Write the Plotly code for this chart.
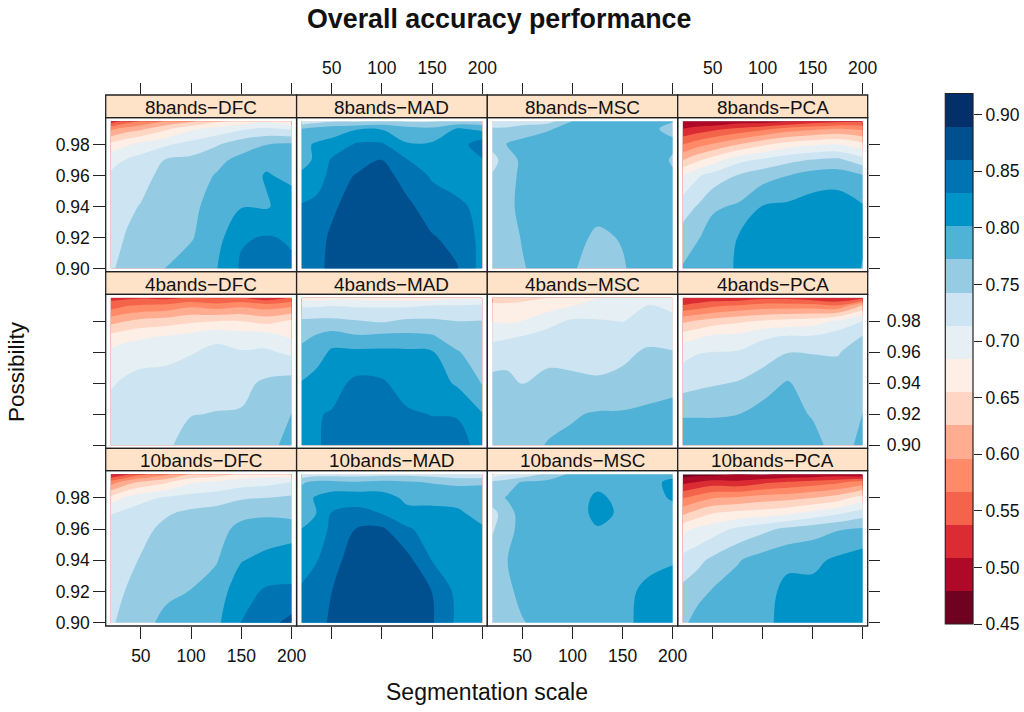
import numpy as np
import plotly.graph_objects as go

# Axes of the data grid
segmentation_scale = [20, 35, 50, 75, 100, 125, 150, 175, 200]
possibility = [0.90, 0.92, 0.94, 0.96, 0.97, 0.98, 0.99, 0.995]

# Overall accuracy (%): one row per segmentation scale,
# each row runs through the possibility values above.
acc_8_dfc = [
    [73.8, 72.8, 72.5, 71.8, 70.5, 66.5, 59.0, 52.0],
    [75.5, 74.5, 73.5, 72.5, 71.5, 68.0, 61.0, 55.0],
    [76.0, 75.5, 74.5, 73.0, 72.5, 69.5, 62.0, 57.0],
    [77.3, 76.5, 76.0, 75.5, 74.5, 71.0, 65.0, 60.0],
    [78.5, 77.0, 76.5, 76.0, 75.0, 72.5, 68.0, 62.0],
    [80.0, 79.0, 78.5, 77.4, 76.5, 74.0, 69.5, 65.0],
    [83.5, 82.8, 80.0, 78.8, 78.0, 76.0, 71.0, 66.0],
    [84.5, 83.3, 79.9, 80.4, 79.5, 77.2, 72.0, 68.0],
    [83.5, 82.8, 81.5, 79.5, 79.0, 77.8, 71.0, 66.0],
]
acc_8_mad = [
    [84.5, 84.0, 83.4, 80.5, 79.5, 79.5, 77.5, 72.0],
    [85.0, 85.0, 84.2, 81.2, 80.5, 80.5, 78.5, 73.0],
    [87.0, 86.5, 85.5, 84.3, 83.5, 81.0, 79.0, 74.0],
    [88.5, 88.0, 87.5, 86.3, 84.5, 83.5, 80.0, 74.0],
    [88.7, 88.6, 88.5, 87.5, 86.2, 83.5, 80.0, 75.0],
    [88.5, 88.0, 86.8, 84.5, 83.2, 80.4, 78.5, 74.0],
    [87.5, 86.3, 84.3, 82.8, 81.8, 80.6, 78.0, 74.0],
    [86.2, 85.0, 83.6, 82.0, 81.5, 81.5, 80.5, 75.0],
    [82.0, 82.3, 82.4, 82.3, 82.8, 85.0, 79.5, 75.0],
]
acc_8_msc = [
    [75.0, 75.5, 75.8, 74.5, 73.5, 75.0, 75.0, 71.0],
    [76.0, 76.2, 76.5, 76.0, 75.5, 77.5, 75.0, 72.0],
    [77.0, 77.4, 78.0, 78.0, 78.0, 78.0, 76.0, 72.5],
    [78.5, 78.5, 78.5, 78.5, 78.5, 78.5, 77.0, 73.0],
    [77.5, 78.0, 78.5, 78.5, 78.5, 78.5, 78.0, 77.3],
    [76.0, 76.8, 78.0, 78.5, 78.5, 78.5, 78.0, 77.5],
    [77.0, 77.4, 78.0, 78.5, 78.5, 78.5, 78.0, 77.5],
    [78.5, 78.5, 78.5, 78.5, 78.5, 78.5, 77.6, 77.4],
    [79.0, 79.0, 78.5, 77.5, 77.0, 77.6, 76.8, 77.3],
]
acc_8_pca = [
    [77.5, 75.5, 73.0, 68.5, 62.5, 56.7, 51.0, 48.0],
    [79.0, 77.0, 74.5, 71.0, 65.0, 58.5, 52.0, 48.5],
    [79.5, 78.5, 76.8, 72.5, 67.0, 60.0, 53.0, 48.0],
    [80.3, 80.2, 77.6, 74.5, 70.5, 62.5, 54.5, 49.5],
    [81.5, 81.3, 80.3, 76.0, 72.0, 65.0, 56.0, 49.5],
    [82.0, 81.8, 80.7, 77.2, 73.5, 67.0, 58.0, 50.5],
    [82.0, 82.0, 81.5, 78.5, 74.5, 68.0, 59.0, 52.0],
    [82.0, 82.0, 81.7, 78.8, 75.0, 68.5, 60.0, 53.0],
    [80.0, 80.5, 80.4, 77.5, 72.5, 66.5, 59.0, 53.5],
]
acc_4_dfc = [
    [73.0, 72.3, 71.1, 69.0, 66.5, 61.5, 55.0, 53.0],
    [73.2, 72.8, 71.8, 70.0, 67.5, 62.5, 56.5, 53.0],
    [73.4, 73.0, 72.3, 70.3, 68.0, 63.5, 57.0, 53.5],
    [73.8, 73.3, 72.5, 70.5, 68.7, 64.0, 57.5, 53.0],
    [75.5, 74.2, 73.0, 71.2, 69.5, 65.0, 59.0, 54.0],
    [75.5, 74.4, 73.4, 72.0, 70.8, 65.5, 58.0, 53.5],
    [75.5, 74.5, 73.6, 71.6, 70.0, 65.5, 59.0, 54.0],
    [76.5, 76.0, 74.8, 71.8, 70.0, 64.5, 58.0, 52.0],
    [78.0, 77.3, 75.5, 70.8, 68.0, 66.0, 59.0, 54.0],
]
acc_4_mad = [
    [82.8, 82.0, 80.3, 78.2, 76.4, 74.8, 71.0, 67.5],
    [82.8, 82.9, 81.5, 78.7, 77.6, 75.0, 71.0, 67.0],
    [83.8, 83.3, 82.0, 80.7, 78.5, 75.0, 71.3, 67.5],
    [85.0, 84.5, 83.8, 80.8, 77.6, 74.5, 71.0, 67.5],
    [85.5, 85.0, 83.5, 80.8, 78.0, 74.0, 71.0, 67.3],
    [85.0, 83.5, 81.8, 80.7, 78.0, 74.8, 71.0, 67.0],
    [84.5, 83.0, 81.5, 80.4, 77.6, 74.8, 71.4, 67.0],
    [84.8, 82.8, 79.8, 77.5, 75.5, 74.3, 71.5, 68.0],
    [81.5, 80.3, 77.0, 75.5, 74.8, 74.4, 72.0, 68.0],
]
acc_4_msc = [
    [74.3, 75.0, 75.0, 73.0, 70.5, 68.3, 66.5, 63.5],
    [75.0, 75.5, 75.0, 73.3, 71.0, 68.0, 66.0, 64.5],
    [76.0, 75.5, 74.2, 72.8, 71.5, 68.5, 66.0, 65.0],
    [77.4, 76.3, 75.3, 73.2, 72.3, 70.5, 67.0, 65.5],
    [77.8, 77.0, 75.0, 73.2, 72.5, 71.8, 68.4, 66.0],
    [78.0, 77.5, 74.7, 73.1, 72.5, 71.7, 69.0, 68.4],
    [78.2, 77.5, 75.3, 73.5, 72.5, 71.3, 69.5, 68.6],
    [78.8, 77.8, 76.0, 74.8, 73.3, 72.6, 71.5, 69.0],
    [79.5, 78.3, 76.3, 74.7, 71.3, 71.8, 71.0, 69.0],
]
acc_4_pca = [
    [79.0, 77.0, 73.0, 70.5, 67.0, 62.0, 54.0, 51.0],
    [79.0, 77.0, 73.6, 71.2, 68.0, 63.0, 55.0, 51.5],
    [79.0, 77.0, 74.0, 71.4, 69.0, 64.0, 56.0, 52.0],
    [79.0, 77.2, 74.5, 71.6, 69.3, 65.0, 57.0, 52.0],
    [79.5, 78.2, 76.0, 72.6, 71.0, 65.8, 58.0, 53.0],
    [80.0, 79.0, 77.5, 74.2, 71.7, 66.5, 58.0, 53.0],
    [79.0, 76.8, 75.7, 74.2, 71.7, 67.0, 58.0, 52.0],
    [75.0, 75.0, 75.0, 74.2, 73.0, 69.0, 57.0, 50.8],
    [78.5, 77.3, 76.0, 75.0, 74.5, 71.5, 63.0, 53.0],
]
acc_10_dfc = [
    [74.0, 73.0, 72.7, 72.0, 71.3, 66.5, 58.0, 50.5],
    [75.0, 74.4, 73.5, 72.8, 72.2, 69.0, 61.0, 53.0],
    [76.5, 75.5, 74.5, 73.5, 72.8, 70.5, 63.0, 56.0],
    [77.8, 76.8, 75.8, 75.0, 74.0, 71.7, 65.0, 59.0],
    [78.5, 77.3, 76.2, 75.5, 75.0, 72.5, 68.0, 63.0],
    [79.5, 78.6, 77.0, 76.2, 75.5, 73.0, 69.0, 64.0],
    [83.2, 82.0, 80.0, 78.0, 76.5, 74.0, 70.0, 66.0],
    [85.0, 83.5, 81.0, 78.5, 76.8, 74.3, 70.5, 67.0],
    [87.0, 83.5, 81.8, 78.8, 76.3, 74.8, 71.5, 66.0],
]
acc_10_mad = [
    [83.5, 83.3, 82.5, 80.2, 78.8, 79.0, 76.8, 72.0],
    [84.0, 83.8, 83.0, 81.5, 80.2, 80.5, 78.0, 73.0],
    [87.0, 86.0, 85.0, 83.7, 83.3, 81.5, 78.0, 73.0],
    [88.8, 88.7, 87.5, 86.2, 84.0, 81.8, 77.5, 73.0],
    [88.8, 88.8, 88.0, 86.5, 83.0, 81.5, 78.0, 73.5],
    [88.8, 88.0, 87.0, 83.5, 81.0, 79.5, 77.5, 73.5],
    [86.3, 86.0, 83.0, 81.8, 80.8, 79.5, 77.0, 73.0],
    [82.5, 82.3, 81.7, 81.0, 80.5, 79.5, 76.5, 72.0],
    [82.0, 82.0, 81.5, 80.4, 79.5, 79.0, 76.8, 72.0],
]
acc_10_msc = [
    [75.0, 75.3, 75.5, 74.0, 73.3, 75.8, 75.0, 70.0],
    [75.8, 76.5, 77.2, 76.0, 76.0, 77.5, 75.8, 71.0],
    [77.0, 78.2, 78.5, 78.5, 78.5, 78.5, 77.5, 72.0],
    [78.5, 78.5, 78.5, 78.5, 78.5, 78.5, 78.0, 75.0],
    [79.0, 79.0, 79.0, 79.0, 79.0, 79.0, 79.0, 78.0],
    [79.3, 79.3, 79.5, 80.0, 80.8, 80.6, 79.5, 78.5],
    [79.5, 79.5, 79.5, 79.5, 79.8, 79.5, 79.0, 78.0],
    [81.0, 80.7, 79.5, 79.0, 79.0, 79.0, 79.0, 78.0],
    [81.5, 81.0, 80.0, 79.0, 79.0, 80.5, 81.0, 79.0],
]
acc_10_pca = [
    [76.5, 75.0, 72.5, 67.5, 62.0, 56.5, 50.0, 46.5],
    [78.5, 76.2, 73.5, 69.0, 64.0, 58.0, 51.0, 47.0],
    [79.5, 77.5, 75.0, 70.0, 65.5, 59.5, 52.0, 47.0],
    [79.5, 78.5, 77.0, 72.0, 66.5, 60.0, 51.5, 48.0],
    [79.5, 79.0, 78.5, 73.5, 67.0, 61.0, 53.0, 47.5],
    [81.0, 81.0, 79.5, 75.0, 68.0, 61.5, 54.0, 48.5],
    [82.0, 81.0, 79.5, 76.0, 69.5, 62.5, 55.0, 48.5],
    [82.0, 81.0, 80.7, 77.0, 71.0, 64.0, 56.0, 49.0],
    [82.0, 82.0, 81.8, 77.5, 73.0, 67.0, 58.0, 48.0],
]

panel_titles = [
    ["8bands−DFC", "8bands−MAD", "8bands−MSC", "8bands−PCA"],
    ["4bands−DFC", "4bands−MAD", "4bands−MSC", "4bands−PCA"],
    ["10bands−DFC", "10bands−MAD", "10bands−MSC", "10bands−PCA"],
]
panel_values = [
    [acc_8_dfc, acc_8_mad, acc_8_msc, acc_8_pca],
    [acc_4_dfc, acc_4_mad, acc_4_msc, acc_4_pca],
    [acc_10_dfc, acc_10_mad, acc_10_msc, acc_10_pca],
]
band_colors = ["#6E0220", "#AE0A28", "#DC2C33", "#F4644A", "#FF8A68", "#FFAC90",
               "#FFD6C3", "#FDEEE6", "#E6F0F4", "#CDE5F2", "#95CCE4", "#50B2D6",
               "#0093C8", "#0073B3", "#00508F", "#03306B"]
x_ticks = [50, 100, 150, 200]
y_ticks = [0.90, 0.92, 0.94, 0.96, 0.98]
key_ticks = [0.45, 0.50, 0.55, 0.60, 0.65, 0.70, 0.75, 0.80, 0.85, 0.90]

W, H = 1024, 712
COL_EDGES = [105.7, 296.6, 487.3, 677.7, 867.7]
ROWS = [(95.0, 117.7, 271.7), (271.7, 294.3, 448.3), (448.3, 470.7, 626.0)]
X_RANGE = [15, 205]
Y_RANGE = [0.898, 0.9973]
INK = "#222222"
FONT = "Liberation Sans"
TICKFONT = dict(family=FONT, size=17.5, color="#111111")


def px(v):
    return v / W


def py(v):
    return 1 - v / H


LEVEL0 = 0.45
LEVEL_STEP = 0.0293
NB = len(band_colors)
colorscale = [[i / (NB - 1), c] for i, c in enumerate(band_colors)]

fig = go.Figure()
layout = {}
shapes = []
annotations = []

n = 0
for r, (strip_top, strip_bot, panel_bot) in enumerate(ROWS):
    for c in range(4):
        n += 1
        z = (np.array(panel_values[r][c]).T / 100.0).tolist()
        fig.add_trace(go.Contour(
            x=segmentation_scale, y=possibility, z=z,
            xaxis=f"x{n}", yaxis=f"y{n}",
            autocontour=False,
            contours=dict(start=LEVEL0 + LEVEL_STEP, end=LEVEL0 + 15 * LEVEL_STEP, size=LEVEL_STEP,
                          coloring="fill", showlines=False),
            line=dict(width=0, smoothing=1.0),
            colorscale=colorscale,
            showscale=False,
            hoverinfo="skip",
        ))
        xa = dict(domain=[px(COL_EDGES[c]), px(COL_EDGES[c + 1])], range=X_RANGE,
                  anchor=f"y{n}", showgrid=False, zeroline=False, showline=False,
                  tickvals=x_ticks, ticktext=[str(v) for v in x_ticks],
                  tickfont=TICKFONT, ticks="", showticklabels=False,
                  tickcolor=INK, tickwidth=1.3, ticklen=11.5, ticklabelstandoff=2)
        if r == 2:
            xa.update(ticks="outside", side="bottom", showticklabels=(c % 2 == 0))
        ya = dict(domain=[py(panel_bot), py(strip_bot)], range=Y_RANGE,
                  anchor=f"x{n}", showgrid=False, zeroline=False, showline=False,
                  tickvals=y_ticks, ticktext=[f"{v:.2f}" for v in y_ticks],
                  tickfont=TICKFONT, ticks="", showticklabels=False,
                  tickcolor=INK, tickwidth=1.3, ticklen=11.5)
        if c == 0:
            ya.update(ticks="outside", side="left", showticklabels=(r != 1))
        if c == 3:
            ya.update(ticks="outside", side="right", showticklabels=(r == 1),
                      ticklabelstandoff=3)
        layout[f"xaxis{n}"] = xa
        layout[f"yaxis{n}"] = ya

        shapes.append(dict(type="rect", xref="paper", yref="paper",
                           x0=px(COL_EDGES[c]), x1=px(COL_EDGES[c + 1]),
                           y0=py(strip_bot), y1=py(strip_top),
                           fillcolor="#FFE3C9", line=dict(color=INK, width=1.3), layer="below"))
        shapes.append(dict(type="rect", xref="paper", yref="paper",
                           x0=px(COL_EDGES[c]), x1=px(COL_EDGES[c + 1]),
                           y0=py(panel_bot), y1=py(strip_bot),
                           fillcolor="rgba(0,0,0,0)", line=dict(color=INK, width=1.3), layer="above"))
        annotations.append(dict(text=panel_titles[r][c], xref="paper", yref="paper",
                                x=px((COL_EDGES[c] + COL_EDGES[c + 1]) / 2),
                                y=py((strip_top + strip_bot) / 2 + 1.2),
                                xanchor="center", yanchor="middle", showarrow=False,
                                font=dict(family=FONT, size=18.9, color="#111111")))

# Top tick axes sit on the top edge of the first row of strips.
for c in range(4):
    n += 1
    fig.add_trace(go.Scatter(x=[], y=[], xaxis=f"x{n}", yaxis=f"y{n}", showlegend=False,
                             hoverinfo="skip"))
    layout[f"xaxis{n}"] = dict(domain=[px(COL_EDGES[c]), px(COL_EDGES[c + 1])], range=X_RANGE,
                               anchor=f"y{n}", side="top", showgrid=False, zeroline=False,
                               showline=False, tickvals=x_ticks,
                               ticktext=[str(v) for v in x_ticks], ticks="outside",
                               ticklen=11.5, tickwidth=1.3, tickcolor=INK, tickfont=TICKFONT,
                               showticklabels=(c % 2 == 1), ticklabelstandoff=2)
    layout[f"yaxis{n}"] = dict(domain=[py(ROWS[0][1]), py(ROWS[0][0])], range=[0, 1],
                               anchor=f"x{n}", visible=False)

# Colour key: one heatmap cell per band on its own value axis.
n += 1
band_edges = [LEVEL0 + i * LEVEL_STEP for i in range(NB + 1)]
band_mids = [[(band_edges[i] + band_edges[i + 1]) / 2] for i in range(NB)]
key_scale = []
for i, col in enumerate(band_colors):
    key_scale += [[i / NB, col], [(i + 1) / NB, col]]
fig.add_trace(go.Heatmap(x=[0, 1], y=band_edges, z=band_mids, xaxis=f"x{n}", yaxis=f"y{n}",
                         zmin=band_edges[0], zmax=band_edges[-1], colorscale=key_scale,
                         showscale=False, hoverinfo="skip"))
KEY_L, KEY_R, KEY_T, KEY_B = 945.3, 973.0, 93.5, 624.0
layout[f"xaxis{n}"] = dict(domain=[px(KEY_L), px(KEY_R)], range=[0, 1], anchor=f"y{n}", visible=False)
layout[f"yaxis{n}"] = dict(domain=[py(KEY_B), py(KEY_T)], range=[band_edges[0], band_edges[-1]],
                           anchor=f"x{n}", side="right", showgrid=False, zeroline=False,
                           showline=False, tickvals=key_ticks,
                           ticktext=[f"{v:.2f}" for v in key_ticks], ticks="outside",
                           ticklen=8, tickwidth=1.2, tickcolor=INK, tickfont=TICKFONT)
shapes.append(dict(type="rect", xref="paper", yref="paper", x0=px(KEY_L), x1=px(KEY_R),
                   y0=py(KEY_B), y1=py(KEY_T), fillcolor="rgba(0,0,0,0)",
                   line=dict(color=INK, width=1.2), layer="above"))

annotations.append(dict(text="<b>Overall accuracy performance</b>", xref="paper", yref="paper",
                        x=px(499), y=py(19), xanchor="center", yanchor="middle", showarrow=False,
                        font=dict(family=FONT, size=26.8, color="#111111")))
annotations.append(dict(text="Segmentation scale", xref="paper", yref="paper",
                        x=px(487), y=py(692), xanchor="center", yanchor="middle", showarrow=False,
                        font=dict(family=FONT, size=23, color="#111111")))
annotations.append(dict(text="Possibility", xref="paper", yref="paper",
                        x=px(16), y=py(372), xanchor="center", yanchor="middle", showarrow=False,
                        textangle=-90, font=dict(family=FONT, size=22.5, color="#111111")))

fig.update_layout(width=W, height=H, autosize=False,
                  margin=dict(l=0, r=0, t=0, b=0, pad=0, autoexpand=False),
                  paper_bgcolor="white", plot_bgcolor="white", showlegend=False,
                  shapes=shapes, annotations=annotations, **layout)
fig.write_html("out.html", post_script="document.body.style.margin='0';",
               config={"displayModeBar": False})
